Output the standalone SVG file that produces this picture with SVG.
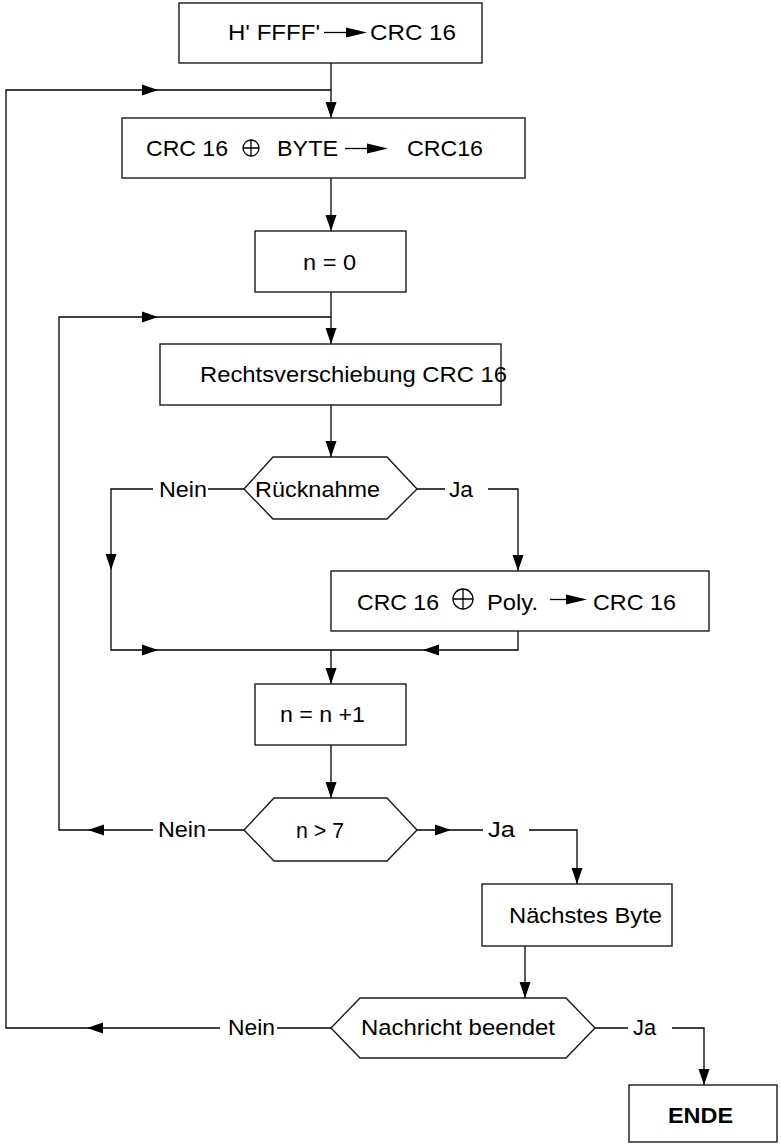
<svg xmlns="http://www.w3.org/2000/svg" xmlns:xlink="http://www.w3.org/1999/xlink" width="781" height="1145" viewBox="0 0 781 1145">
<style>
.box{fill:#fff;stroke:#1a1a1a;stroke-width:1.4}
.ln{fill:none;stroke:#000;stroke-width:1.3}
.t{font-family:"Liberation Sans",Arial,sans-serif;font-size:22px;fill:#000}
.b{font-weight:bold}
.ah{fill:#000}
</style>
<defs>
<path id="ah" d="M0,0 L-16,-5.5 L-16,5.5 Z"/>
<path id="sah" d="M0,0 L-21,-5 L-21,5 Z"/>
</defs>
<rect width="781" height="1145" fill="#fff"/>

<g id="connectors">
<path class="ln" d="M331,63 V118"/>
<path class="ln" d="M331,178 V231"/>
<path class="ln" d="M331,292 V344"/>
<path class="ln" d="M331,405 V457"/>
<path class="ln" d="M244,489 H208 M153,489 H111 V650 H518 V631 M331,650 V684"/>
<path class="ln" d="M417,489 H445 M488,489 H518 V571"/>
<path class="ln" d="M331,745 V798"/>
<path class="ln" d="M244,830 H208 M153,830 H59 V317 H331"/>
<path class="ln" d="M417,830 H483 M529,830 H577 V884"/>
<path class="ln" d="M525,946 V998"/>
<path class="ln" d="M331,1028 H277 M220,1028 H6 V90 H331"/>
<path class="ln" d="M595,1028 H628 M672,1028 H704 V1085"/>
<use href="#ah" class="ah" transform="translate(331,118) rotate(90)"/>
<use href="#ah" class="ah" transform="translate(331,231) rotate(90)"/>
<use href="#ah" class="ah" transform="translate(331,344) rotate(90)"/>
<use href="#ah" class="ah" transform="translate(331,457) rotate(90)"/>
<use href="#ah" class="ah" transform="translate(111,570) rotate(90)"/>
<use href="#ah" class="ah" transform="translate(518,571) rotate(90)"/>
<use href="#ah" class="ah" transform="translate(158,650)"/>
<use href="#ah" class="ah" transform="translate(423,650) rotate(180)"/>
<use href="#ah" class="ah" transform="translate(331,684) rotate(90)"/>
<use href="#ah" class="ah" transform="translate(331,798) rotate(90)"/>
<use href="#ah" class="ah" transform="translate(88,830) rotate(180)"/>
<use href="#ah" class="ah" transform="translate(158,317)"/>
<use href="#ah" class="ah" transform="translate(451,830)"/>
<use href="#ah" class="ah" transform="translate(577,884) rotate(90)"/>
<use href="#ah" class="ah" transform="translate(525,998) rotate(90)"/>
<use href="#ah" class="ah" transform="translate(87,1028) rotate(180)"/>
<use href="#ah" class="ah" transform="translate(158,90)"/>
<use href="#ah" class="ah" transform="translate(704,1085) rotate(90)"/>
</g>

<g id="labels">
<text class="t" x="159" y="497" textLength="48" lengthAdjust="spacingAndGlyphs">Nein</text>
<text class="t" x="449" y="497" textLength="24" lengthAdjust="spacingAndGlyphs">Ja</text>
<text class="t" x="158" y="837" textLength="48" lengthAdjust="spacingAndGlyphs">Nein</text>
<text class="t" x="488" y="837" textLength="27" lengthAdjust="spacingAndGlyphs">Ja</text>
<text class="t" x="228" y="1035" textLength="47" lengthAdjust="spacingAndGlyphs">Nein</text>
<text class="t" x="633" y="1035" textLength="23" lengthAdjust="spacingAndGlyphs">Ja</text>
</g>

<g id="start">
<rect class="box" x="179" y="3" width="303" height="60"/>
<text class="t" x="228" y="40" textLength="92" lengthAdjust="spacingAndGlyphs">H' FFFF'</text>
<path class="ln" d="M324,32.5 H350"/>
<use href="#sah" class="ah" transform="translate(367,32.5)"/>
<text class="t" x="370" y="40" textLength="86" lengthAdjust="spacingAndGlyphs">CRC 16</text>
</g>

<g id="xorbyte">
<rect class="box" x="122" y="118" width="403" height="60"/>
<text class="t" x="146" y="156" textLength="82" lengthAdjust="spacingAndGlyphs">CRC 16</text>
<circle class="ln" cx="251" cy="148" r="8"/>
<path class="ln" d="M243,148 H259 M251,140 V156"/>
<text class="t" x="277" y="156" textLength="61" lengthAdjust="spacingAndGlyphs">BYTE</text>
<path class="ln" d="M345,148.5 H370"/>
<use href="#sah" class="ah" transform="translate(388,148.5)"/>
<text class="t" x="407" y="156" textLength="76" lengthAdjust="spacingAndGlyphs">CRC16</text>
</g>

<g id="n0">
<rect class="box" x="255" y="231" width="151" height="61"/>
<text class="t" x="303" y="270" textLength="53" lengthAdjust="spacingAndGlyphs">n = 0</text>
</g>

<g id="shift">
<rect class="box" x="160" y="344" width="341" height="61"/>
<text class="t" x="200" y="382" textLength="307" lengthAdjust="spacingAndGlyphs">Rechtsverschiebung CRC 16</text>
</g>

<g id="ruecknahme">
<polygon class="box" points="244,489 273,457 387,457 417,489 387,519 273,519"/>
<text class="t" x="255" y="497" textLength="125" lengthAdjust="spacingAndGlyphs">Rücknahme</text>
</g>

<g id="xorpoly">
<rect class="box" x="331" y="571" width="378" height="60"/>
<text class="t" x="357" y="610" textLength="82" lengthAdjust="spacingAndGlyphs">CRC 16</text>
<circle class="ln" cx="463" cy="599" r="10"/>
<path class="ln" d="M453,599 H473 M463,589 V609"/>
<text class="t" x="487" y="610" textLength="51" lengthAdjust="spacingAndGlyphs">Poly.</text>
<path class="ln" d="M550,599.5 H570"/>
<use href="#sah" class="ah" transform="translate(587,599.5)"/>
<text class="t" x="593" y="610" textLength="83" lengthAdjust="spacingAndGlyphs">CRC 16</text>
</g>

<g id="ninc">
<rect class="box" x="255" y="684" width="151" height="61"/>
<text class="t" x="280" y="722" textLength="85" lengthAdjust="spacingAndGlyphs">n = n +1</text>
</g>

<g id="ngt7">
<polygon class="box" points="244,830 274,798 387,798 417,830 387,861 274,861"/>
<text class="t" x="296" y="838" textLength="48" lengthAdjust="spacingAndGlyphs">n &gt; 7</text>
</g>

<g id="nextbyte">
<rect class="box" x="482" y="884" width="190" height="62"/>
<text class="t" x="509" y="923" textLength="153" lengthAdjust="spacingAndGlyphs">Nächstes Byte</text>
</g>

<g id="msgend">
<polygon class="box" points="331,1028 360,998 566,998 595,1028 566,1058 360,1058"/>
<text class="t" x="361" y="1035" textLength="194" lengthAdjust="spacingAndGlyphs">Nachricht beendet</text>
</g>

<g id="ende">
<rect class="box" x="629" y="1085" width="148" height="57"/>
<text class="t b" x="668" y="1123" textLength="65" lengthAdjust="spacingAndGlyphs">ENDE</text>
</g>
</svg>
